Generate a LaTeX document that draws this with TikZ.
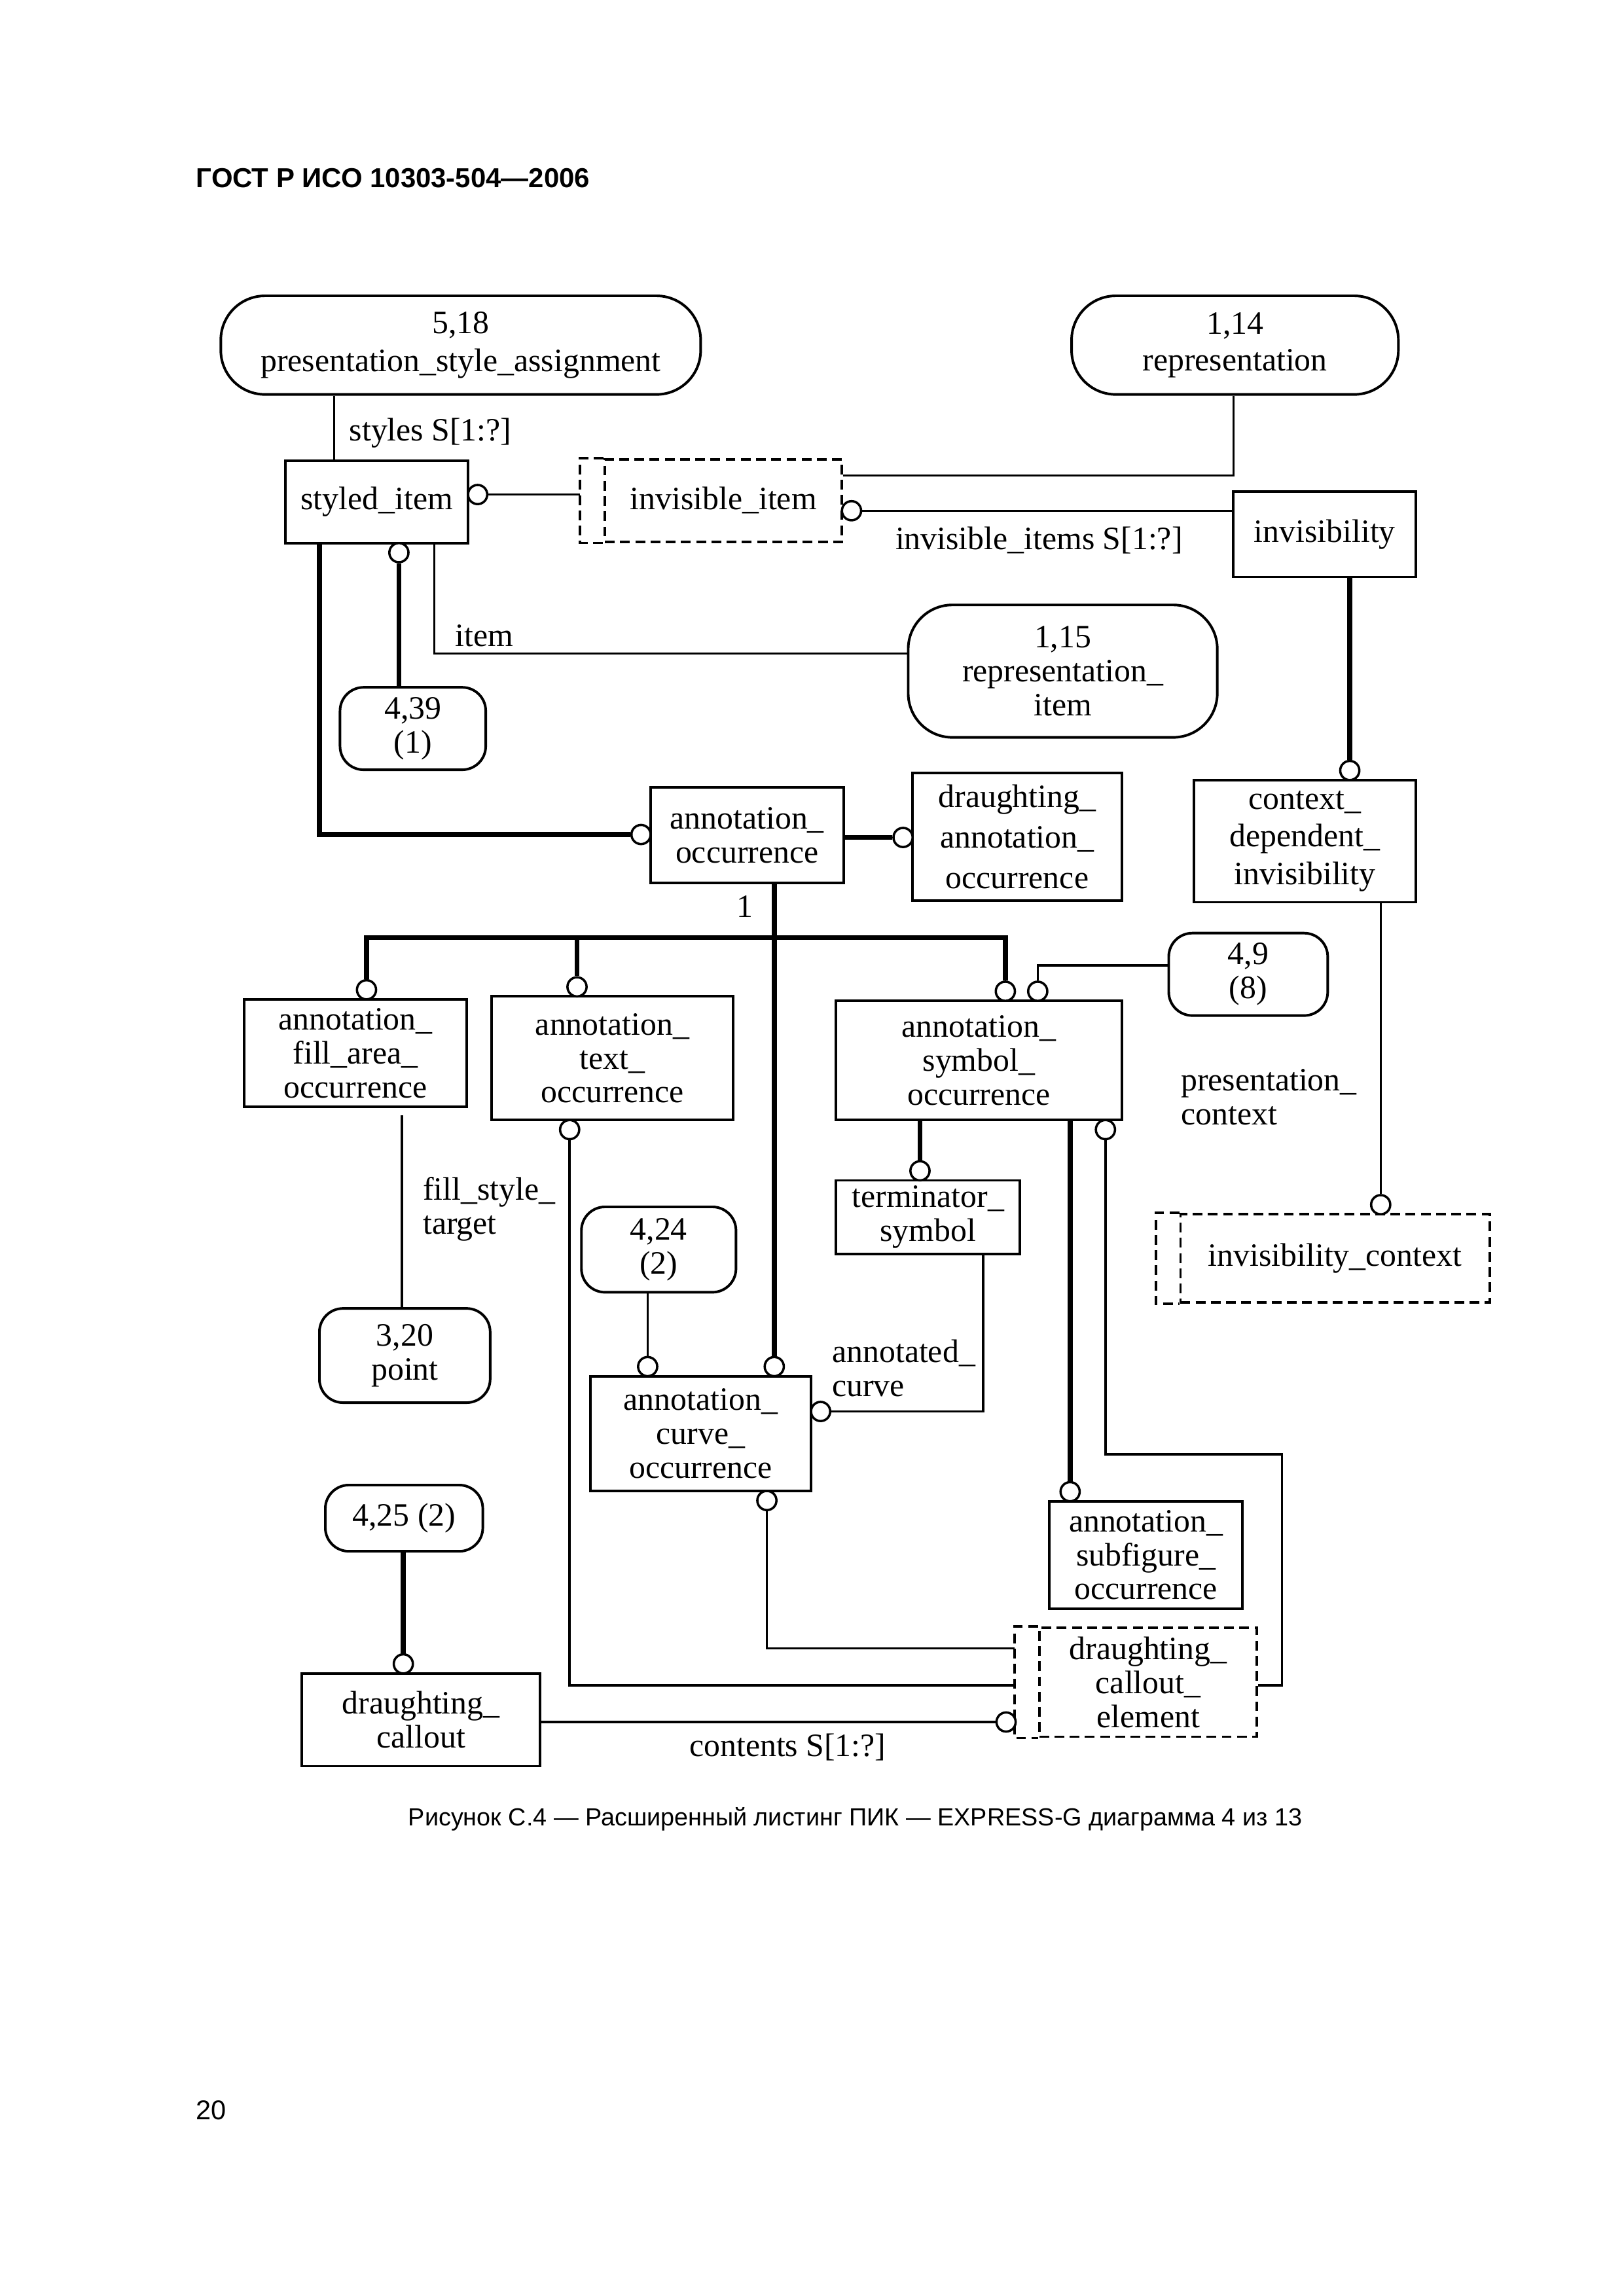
\documentclass[tikz,border=0pt]{standalone}
\usepackage{fontspec}
\setmainfont{Liberation Serif}
\setsansfont{Liberation Sans}
\usetikzlibrary{calc}

\newlength\px
\setlength\px{0.019039cm}
\newcommand\diagfont{\fontsize{12}{12.5}\selectfont}

\tikzset{
  entity/.style={draw, line width=0.95pt, align=center, inner sep=0pt},
  pageref/.style={entity, rounded corners=16\px},
  dashline/.style={line width=0.95pt, dash pattern=on 3.6pt off 2pt},
  selbox/.style={entity, dashline},
  sz/.style 2 args={minimum width=#1\px, minimum height=#2\px},
  ring/.style={circle, draw, fill=white, line width=0.85pt, minimum size=13\px, inner sep=0pt},
  attr/.style={line width=0.85pt},
  inherit/.style={line width=1.8pt},
  lbl/.style={inner sep=0pt, align=left, anchor=west}
}

\begin{document}
\begin{tikzpicture}[x=0.019039cm, y=-0.019039cm, font=\diagfont]
  \path[fill=white, use as bounding box] (0,0) rectangle (1103,1560);

  \node[lbl, font=\sffamily\bfseries\fontsize{10.1}{12}\selectfont] (head) at (133,121) {ГОСТ Р ИСО 10303-504—2006};

  % entities and page references
  \node[pageref, sz={326}{67}, rounded corners=30\px] (psa) at (313,234.5) {5,18\\[1.5pt]presentation\_style\_assignment};
  \node[pageref, sz={222}{67}, rounded corners=30\px] (repr) at (839,234.5) {1,14\\[1pt]representation};
  \node[entity, sz={124}{56}] (styled) at (256,341) {styled\_item};
  \node[selbox, sz={161}{56}] (invitem) at (491.5,340) {invisible\_item};
  \node[entity, sz={124}{58}] (invis) at (900,363) {invisibility};
  \node[pageref, sz={210}{90}, rounded corners=30\px] (repitem) at (722,456) {1,15\\representation\_\\item};
  \node[pageref, sz={99}{56}] (ref439) at (280.5,495) {4,39\\(1)};
  \node[entity, sz={131}{65}] (annocc) at (507.5,567.5) {annotation\_\\occurrence};
  \node[entity, sz={142}{87}] (draocc) at (691,568.5) {draughting\_\\[2.4pt]annotation\_\\[2.4pt]occurrence};
  \node[entity, sz={151}{83}] (ctxinv) at (886.5,571.5) {context\_\\[1.3pt]dependent\_\\[1.3pt]invisibility};
  \node[entity, sz={151}{73}] (fillocc) at (241.5,715.5) {annotation\_\\fill\_area\_\\occurrence};
  \node[entity, sz={164}{84}] (textocc) at (416,719) {annotation\_\\text\_\\occurrence};
  \node[entity, sz={194}{81}] (symocc) at (665,720.5) {annotation\_\\symbol\_\\occurrence};
  \node[pageref, sz={108}{56}] (ref49) at (848,662) {4,9\\(8)};
  \node[entity, sz={125}{50}] (termsym) at (630.5,827) {terminator\_\\symbol};
  \node[selbox, sz={210}{60}] (invctx) at (907,855) {invisibility\_context};
  \node[pageref, sz={105}{58}] (ref424) at (447.5,849) {4,24\\(2)};
  \node[pageref, sz={116}{64}] (ref320) at (275,921) {3,20\\point};
  \node[entity, sz={150}{78}] (curveocc) at (476,974) {annotation\_\\curve\_\\occurrence};
  \node[entity, sz={131}{73}] (subocc) at (778.5,1056.5) {annotation\_\\subfigure\_\\occurrence};
  \node[pageref, sz={107}{45}] (ref425) at (274.5,1031.5) {4,25 (2)};
  \node[entity, sz={162}{63}] (callout) at (286,1168.5) {draughting\_\\callout};
  \node[selbox, sz={148}{74}] (dce) at (780,1143) {draughting\_\\callout\_\\element};

  % outer strip of the select boxes
  \foreach \n in {invitem,invctx,dce}
    \draw[dashline] (\n.north west) -- ++(-16,0) coordinate (\n-edge) |- (\n.south west);

  % rings
  \node[ring] (rstyled) at (324.5,336) {};
  \node[ring] (rinvitem) at (578.5,347) {};
  \node[ring] (rannocc) at (435.5,567) {};
  \node[ring] (rsub439) at (271,375.5) {};
  \node[ring] (rctxinv) at (917,523.5) {};
  \node[ring] (rdraocc) at (613.5,569) {};
  \node[ring] (rcurve) at (526,928.5) {};
  \node[ring] (rfill) at (249,672.5) {};
  \node[ring] (rtext) at (392,670.5) {};
  \node[ring] (rsym) at (683,673.5) {};
  \node[ring] (rsymctx) at (705,673.5) {};
  \node[ring] (rterm) at (625,795.5) {};
  \node[ring] (rsub) at (727,1013.5) {};
  \node[ring] (rsymsel) at (751,767.5) {};
  \node[ring] (rtextsel) at (387,767.5) {};
  \node[ring] (rcurve424) at (440,928.5) {};
  \node[ring] (rannot) at (557.5,959) {};
  \node[ring] (rcurvesel) at (521,1019.5) {};
  \node[ring] (rcallout) at (274,1130.5) {};
  \node[ring] (rcontents) at (683.5,1170) {};
  \node[ring] (rinvctx) at (938,818.5) {};

  % top part
  \draw[attr] (psa.south -| 227,0) -- (styled.north -| 227,0);
  \node[lbl] (lstyles) at (237,294) {styles S[1:?]};
  \draw[attr] (rstyled) -- (rstyled -| invitem-edge);
  \draw[attr] (invitem.east |- 0,323) -| (repr.south -| 838,0);
  \draw[attr] (invis.west |- rinvitem) -- (rinvitem);
  \node[lbl] (litems) at (608,367) {invisible\_items S[1:?]};
  \draw[inherit] (styled.south -| 217,0) |- (rannocc);
  \draw[inherit] (rsub439) -- (ref439.north -| rsub439);
  \draw[attr] (styled.south -| 295,0) |- (repitem.west |- 0,444);
  \node[lbl] (litem) at (309,432) {item};
  \draw[inherit] (invis.south -| rctxinv) -- (rctxinv);
  \draw[inherit] (annocc.east |- rdraocc) -- (rdraocc);

  % subtypes of annotation_occurrence
  \draw[inherit] (annocc.south -| rcurve) -- (rcurve);
  \node (lone) at (506,616) {1};
  \coordinate (barL) at (249,637);
  \coordinate (barR) at (683,637);
  \draw[inherit] (rfill) -- (barL) -- (barR) -- (rsym);
  \draw[inherit] (rtext) -- (rtext |- barL);
  \draw[attr] (ref49.west |- 0,656) -| (rsymctx);
  \draw[inherit] (symocc.south -| rterm) -- (rterm);
  \draw[inherit] (symocc.south -| rsub) -- (rsub);

  % attributes and select lines
  \draw[attr, shorten <=5\px] (fillocc.south -| 273,0) -- (ref320.north -| 273,0);
  \node[lbl] (lfill) at (287,821.5) {fill\_style\_\\target};
  \draw[attr] (ctxinv.south -| rinvctx) -- (rinvctx);
  \node[lbl] (lctx) at (802,745.5) {presentation\_\\context};
  \draw[attr] (ref424.south -| rcurve424) -- (rcurve424);
  \draw[attr] (rannot) -| (termsym.south -| 668,0);
  \node[lbl] (lannot) at (565,929.5) {annotated\_\\curve};
  \draw[attr] (rsymsel) -- (rsymsel |- 0,988) -| (871,1145) -- (dce.east |- 0,1145);
  \draw[attr] (rtextsel) |- (dce-edge |- 0,1145);
  \draw[attr] (rcurvesel) |- (dce-edge |- 0,1120);
  \draw[inherit] (ref425.south -| rcallout) -- (rcallout);
  \draw[attr] (callout.east |- rcontents) -- (rcontents);
  \node[lbl] (lcontents) at (468,1187) {contents S[1:?]};

  \node[font=\sffamily\fontsize{9.1}{11}\selectfont] (caption) at (581,1236) {Рисунок С.4 — Расширенный листинг ПИК — EXPRESS-G диаграмма 4 из 13};
  \node[lbl, font=\sffamily\fontsize{10}{12}\selectfont] (pagenum) at (133,1434) {20};
\end{tikzpicture}
\end{document}
